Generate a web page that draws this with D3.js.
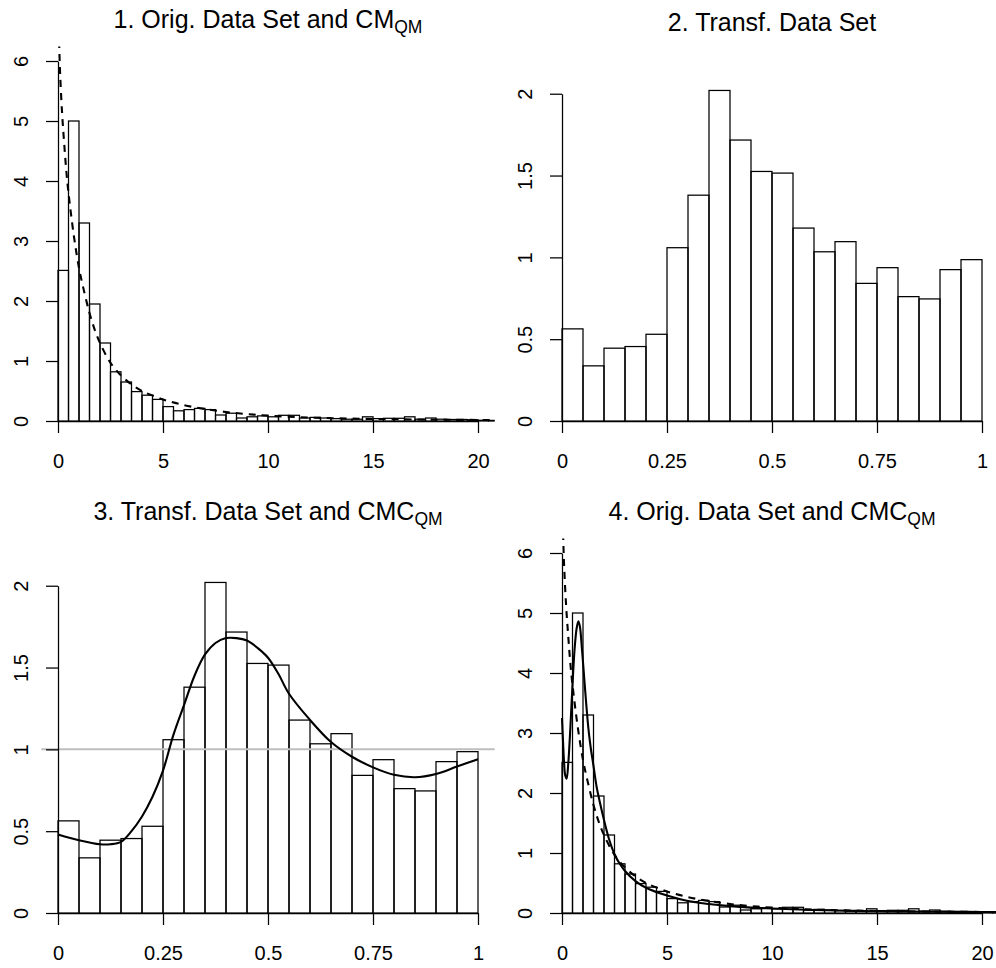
<!DOCTYPE html>
<html>
<head>
<meta charset="utf-8">
<script src="https://cdn.jsdelivr.net/npm/d3@7"></script>
<style>
  html, body { margin: 0; padding: 0; background: #fff; }
  svg { display: block; font-family: "Liberation Sans", Arial, Helvetica, sans-serif; }
</style>
</head>
<body>
<svg id="chart" width="996" height="968"></svg>
<script>
// ---- Histogram of the original data set (density, bins of width 0.5 from 0) ----
const origBinWidth = 0.5;
const origDensity = [
  2.51, 5.00, 3.30, 1.95, 1.30, 0.82, 0.65, 0.49, 0.43, 0.36,
  0.24, 0.17, 0.19, 0.21, 0.19, 0.10, 0.13, 0.05, 0.07, 0.085,
  0.07, 0.095, 0.095, 0.05, 0.06, 0.05, 0.04, 0.03, 0.03, 0.07,
  0.04, 0.045, 0.045, 0.07, 0.03, 0.05, 0.03, 0.025, 0.025, 0.02,
  0.012, 0.01
];

// ---- Histogram of the transformed data set (density, bins of width 0.05 on [0,1]) ----
const transBinWidth = 0.05;
const transDensity = [
  0.563, 0.337, 0.445, 0.455, 0.530, 1.059, 1.380, 2.020, 1.717, 1.525,
  1.515, 1.179, 1.034, 1.096, 0.841, 0.937, 0.760, 0.746, 0.925, 0.986
];

// ---- CM_QM density on the original scale (dashed) ----
const cmX = [0, 0.04, 0.1, 0.2, 0.3, 0.4, 0.5, 0.75, 1.0, 1.25, 1.5, 1.75, 2.0, 2.5, 3.0,
             3.5, 4.0, 5.0, 6.0, 7.0, 8.0, 9.0, 10, 12, 14, 16, 18, 20, 20.8];
const cmY = [7.2, 6.5, 5.8, 5.1, 4.6, 4.15, 3.8, 3.1, 2.55, 2.15, 1.8, 1.52, 1.3, 0.97, 0.76,
             0.61, 0.5, 0.36, 0.265, 0.2, 0.15, 0.115, 0.09, 0.057, 0.04, 0.029, 0.022, 0.017, 0.015];

// ---- CMC_QM density on the transformed scale (solid) ----
const cmcTransX = [0, 0.05, 0.1, 0.125, 0.15, 0.175, 0.2, 0.225, 0.25, 0.275, 0.3, 0.325, 0.35,
                   0.375, 0.4, 0.425, 0.45, 0.475, 0.5, 0.525, 0.55, 0.6, 0.65, 0.7, 0.75, 0.8,
                   0.85, 0.9, 0.95, 1.0];
const cmcTransY = [0.48, 0.445, 0.42, 0.42, 0.435, 0.5, 0.59, 0.71, 0.87, 1.09, 1.27, 1.45, 1.58,
                   1.65, 1.68, 1.68, 1.665, 1.62, 1.56, 1.46, 1.34, 1.18, 1.045, 0.955, 0.89, 0.845,
                   0.83, 0.85, 0.895, 0.94];

// ---- CMC_QM density back on the original scale (solid) ----
const cmcOrigX = [0, 0.05, 0.1, 0.15, 0.22, 0.3, 0.4, 0.5, 0.6, 0.7, 0.78, 0.85, 0.95, 1.05, 1.15,
                  1.25, 1.35, 1.5, 1.65, 1.8, 2.0, 2.25, 2.5, 2.75, 3.0, 3.5, 4.0, 5, 6, 7, 8, 9,
                  10, 12, 14, 16, 18, 20, 20.8];
const cmcOrigY = [3.25, 2.85, 2.5, 2.3, 2.24, 2.5, 3.1, 3.8, 4.4, 4.75, 4.86, 4.78, 4.4, 3.95, 3.5,
                  3.1, 2.8, 2.45, 2.1, 1.85, 1.55, 1.22, 0.98, 0.82, 0.7, 0.53, 0.42, 0.29, 0.2,
                  0.15, 0.115, 0.09, 0.075, 0.05, 0.035, 0.027, 0.02, 0.016, 0.015];

// ---- Axis ticks ----
const origXTicks = [0, 5, 10, 15, 20];
const origXLabels = ["0", "5", "10", "15", "20"];
const origYTicks = [0, 1, 2, 3, 4, 5, 6];
const origYLabels = ["0", "1", "2", "3", "4", "5", "6"];
const transXTicks = [0, 0.25, 0.5, 0.75, 1];
const transXLabels = ["0", "0.25", "0.5", "0.75", "1"];
const transYTicks = [0, 0.5, 1, 1.5, 2];
const transYLabels = ["0", "0.5", "1", "1.5", "2"];

const svg = d3.select("#chart");
svg.append("rect").attr("width", 996).attr("height", 968).attr("fill", "#fff");

// plot regions (2 x 2 grid)
const colLeft = [41.2, 545.2];
const rowTop = [46.6, 538.6];
const regW = 453.6, regH = 388.8;

const FONT_AXIS = 20, FONT_TITLE = 25, FONT_SUB = 17.5;

function makePanel(id, col, row, xlim, ylim) {
  const dx = xlim[1] - xlim[0], dy = ylim[1] - ylim[0];
  const x = d3.scaleLinear()
    .domain([xlim[0] - 0.04 * dx, xlim[1] + 0.04 * dx])
    .range([colLeft[col], colLeft[col] + regW]);
  const y = d3.scaleLinear()
    .domain([ylim[0] - 0.04 * dy, ylim[1] + 0.04 * dy])
    .range([rowTop[row] + regH, rowTop[row]]);
  const g = svg.append("g");
  svg.append("clipPath").attr("id", "clip" + id)
    .append("rect")
    .attr("x", colLeft[col]).attr("y", rowTop[row])
    .attr("width", regW).attr("height", regH);
  const plot = g.append("g").attr("clip-path", `url(#clip${id})`);
  return { x, y, g, plot, col, row };
}

function drawHist(p, width, dens) {
  const bins = dens.map((d, i) => ({ x0: i * width, x1: (i + 1) * width, h: d }));
  p.plot.append("g").selectAll("rect").data(bins).join("rect")
    .attr("x", d => p.x(d.x0))
    .attr("width", d => p.x(d.x1) - p.x(d.x0))
    .attr("y", d => p.y(d.h))
    .attr("height", d => p.y(0) - p.y(d.h))
    .attr("fill", "none")
    .attr("stroke", "#000")
    .attr("stroke-width", 1.25);
}

function drawCurve(p, xs, ys, dashed) {
  const pts = xs.map((v, i) => [v, ys[i]]);
  const line = d3.line()
    .x(d => p.x(d[0])).y(d => p.y(d[1]))
    .curve(d3.curveCatmullRom.alpha(0.5));
  p.plot.append("path").datum(pts)
    .attr("d", line)
    .attr("fill", "none")
    .attr("stroke", "#000")
    .attr("stroke-width", 2.1)
    .attr("stroke-dasharray", dashed ? "7,6" : null);
}

function drawAxes(p, xt, xl, yt, yl) {
  const xa = d3.scaleLinear().domain([xt[0], xt[xt.length - 1]])
    .range([p.x(xt[0]), p.x(xt[xt.length - 1])]);
  const ya = d3.scaleLinear().domain([yt[0], yt[yt.length - 1]])
    .range([p.y(yt[0]), p.y(yt[yt.length - 1])]);

  const gx = p.g.append("g")
    .attr("transform", `translate(0,${p.y(0)})`)
    .call(d3.axisBottom(xa).tickValues(xt).tickSize(12).tickSizeOuter(0)
      .tickFormat((d, i) => xl[i]));
  gx.selectAll("text").attr("y", 47).attr("dy", 0)
    .attr("font-size", FONT_AXIS).attr("fill", "#000")
    .attr("font-family", "Liberation Sans, Arial, sans-serif");

  const gy = p.g.append("g")
    .attr("transform", `translate(${p.x(0)},0)`)
    .call(d3.axisLeft(ya).tickValues(yt).tickSize(12).tickSizeOuter(0)
      .tickFormat((d, i) => yl[i]));
  gy.selectAll("text")
    .attr("transform", "rotate(-90)")
    .attr("x", 0).attr("y", -30).attr("dy", 0)
    .attr("text-anchor", "middle")
    .attr("font-size", FONT_AXIS).attr("fill", "#000")
    .attr("font-family", "Liberation Sans, Arial, sans-serif");

  [gx, gy].forEach(a => {
    a.selectAll("path, line").attr("stroke", "#000").attr("stroke-width", 1.25);
  });
}

function drawTitle(p, main, sub) {
  const cx = colLeft[p.col] + regW / 2;
  const base = (p.row === 0 ? 0 : 492) + (sub ? 28 : 30.5);
  const t = svg.append("text")
    .attr("x", cx).attr("y", base)
    .attr("text-anchor", "middle")
    .attr("font-size", FONT_TITLE)
    .attr("fill", "#000");
  t.append("tspan").text(main);
  if (sub) {
    t.append("tspan").attr("font-size", FONT_SUB).attr("dy", 4.5).text(sub);
  }
}

// 1. original data with CM_QM
const p1 = makePanel(1, 0, 0, [0, 20], [0, 6]);
drawHist(p1, origBinWidth, origDensity);
drawCurve(p1, cmX, cmY, true);
drawAxes(p1, origXTicks, origXLabels, origYTicks, origYLabels);
drawTitle(p1, "1. Orig. Data Set and CM", "QM");

// 2. transformed data
const p2 = makePanel(2, 1, 0, [0, 1], [0, 2.2]);
drawHist(p2, transBinWidth, transDensity);
drawAxes(p2, transXTicks, transXLabels, transYTicks, transYLabels);
drawTitle(p2, "2. Transf. Data Set", null);

// 3. transformed data with CMC_QM and uniform reference line
const p3 = makePanel(3, 0, 1, [0, 1], [0, 2.2]);
drawHist(p3, transBinWidth, transDensity);
p3.plot.append("line")
  .attr("x1", colLeft[0]).attr("x2", colLeft[0] + regW)
  .attr("y1", p3.y(1)).attr("y2", p3.y(1))
  .attr("stroke", "#bebebe").attr("stroke-width", 2);
drawCurve(p3, cmcTransX, cmcTransY, false);
drawAxes(p3, transXTicks, transXLabels, transYTicks, transYLabels);
drawTitle(p3, "3. Transf. Data Set and CMC", "QM");

// 4. original data with CM_QM and CMC_QM
const p4 = makePanel(4, 1, 1, [0, 20], [0, 6]);
drawHist(p4, origBinWidth, origDensity);
drawCurve(p4, cmX, cmY, true);
drawCurve(p4, cmcOrigX, cmcOrigY, false);
drawAxes(p4, origXTicks, origXLabels, origYTicks, origYLabels);
drawTitle(p4, "4. Orig. Data Set and CMC", "QM");
</script>
</body>
</html>
